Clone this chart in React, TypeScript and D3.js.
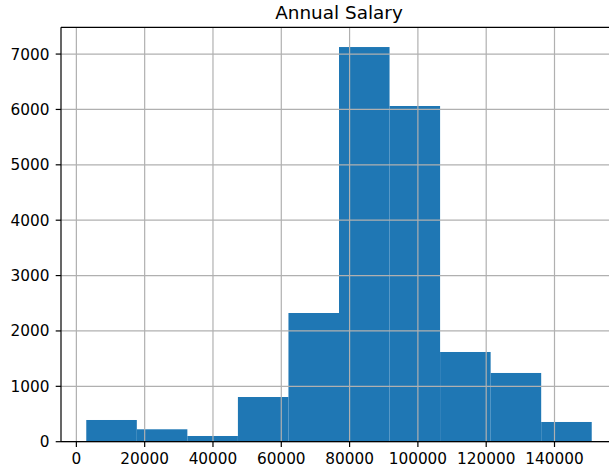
import React, { useEffect, useRef } from "react";
import * as d3 from "d3";

const binEdges = [2900, 17700, 32500, 47300, 62100, 76900, 91700, 106500, 121300, 136100, 150900];
const counts = [392, 224, 103, 807, 2324, 7127, 6062, 1620, 1241, 356];
const xTicks = [0, 20000, 40000, 60000, 80000, 100000, 120000, 140000];
const yTicks = [0, 1000, 2000, 3000, 4000, 5000, 6000, 7000];
const title = "Annual Salary";

export default function App() {
  const ref = useRef<SVGSVGElement>(null);
  useEffect(() => {
    const left = 61, right = 617, top = 27.3, bottom = 441.7;
    const svg = d3.select(ref.current);
    svg.selectAll("*").remove();
    const lo = binEdges[0], hi = binEdges[binEdges.length - 1];
    const m = (hi - lo) * 0.05;
    const x = d3.scaleLinear().domain([lo - m, hi + m]).range([left, right]);
    const ymax = d3.max(counts)! * 1.05;
    const y = d3.scaleLinear().domain([0, ymax]).range([bottom, top]);
    const font = "DejaVu Sans, sans-serif";
    const fs = 15.3;
    const lw = 1.2;
    const tl = 5.3;

    const g = svg.append("g");
    g.selectAll("rect.bar").data(counts).enter().append("rect")
      .attr("x", (d, i) => x(binEdges[i]))
      .attr("width", (d, i) => x(binEdges[i + 1]) - x(binEdges[i]))
      .attr("y", d => y(d))
      .attr("height", d => y(0) - y(d))
      .attr("fill", "#1f77b4");

    // grid
    g.selectAll("line.gx").data(xTicks).enter().append("line")
      .attr("x1", d => x(d)).attr("x2", d => x(d))
      .attr("y1", top).attr("y2", bottom)
      .attr("stroke", "#b0b0b0").attr("stroke-width", lw);
    g.selectAll("line.gy").data(yTicks).enter().append("line")
      .attr("x1", left).attr("x2", right)
      .attr("y1", d => y(d)).attr("y2", d => y(d))
      .attr("stroke", "#b0b0b0").attr("stroke-width", lw);

    // spines
    g.append("line").attr("x1", left).attr("x2", left).attr("y1", top).attr("y2", bottom).attr("stroke", "#000").attr("stroke-width", lw);
    g.append("line").attr("x1", left).attr("x2", right).attr("y1", bottom).attr("y2", bottom).attr("stroke", "#000").attr("stroke-width", lw);
    g.append("line").attr("x1", left).attr("x2", right).attr("y1", top).attr("y2", top).attr("stroke", "#000").attr("stroke-width", lw);

    // ticks
    g.selectAll("line.tx").data(xTicks).enter().append("line")
      .attr("x1", d => x(d)).attr("x2", d => x(d))
      .attr("y1", bottom).attr("y2", bottom + tl)
      .attr("stroke", "#000").attr("stroke-width", lw);
    g.selectAll("text.tx").data(xTicks).enter().append("text")
      .attr("x", d => x(d)).attr("y", bottom + 22.5)
      .attr("text-anchor", "middle")
      .attr("font-family", font).attr("font-size", fs).attr("fill", "#000")
      .text(d => String(d));
    g.selectAll("line.ty").data(yTicks).enter().append("line")
      .attr("x1", left - tl).attr("x2", left)
      .attr("y1", d => y(d)).attr("y2", d => y(d))
      .attr("stroke", "#000").attr("stroke-width", lw);
    g.selectAll("text.ty").data(yTicks).enter().append("text")
      .attr("x", left - 11.5).attr("y", d => y(d))
      .attr("dy", "0.36em")
      .attr("text-anchor", "end")
      .attr("font-family", font).attr("font-size", fs).attr("fill", "#000")
      .text(d => String(d));

    g.append("text").attr("x", (left + right) / 2).attr("y", top - 8.3)
      .attr("text-anchor", "middle")
      .attr("font-family", font).attr("font-size", 18.4).attr("fill", "#000")
      .text(title);
  }, []);
  return (
    <svg ref={ref} width={609} height={470}
      style={{ position: "absolute", left: 0, top: 0, background: "#fff" }} />
  );
}
